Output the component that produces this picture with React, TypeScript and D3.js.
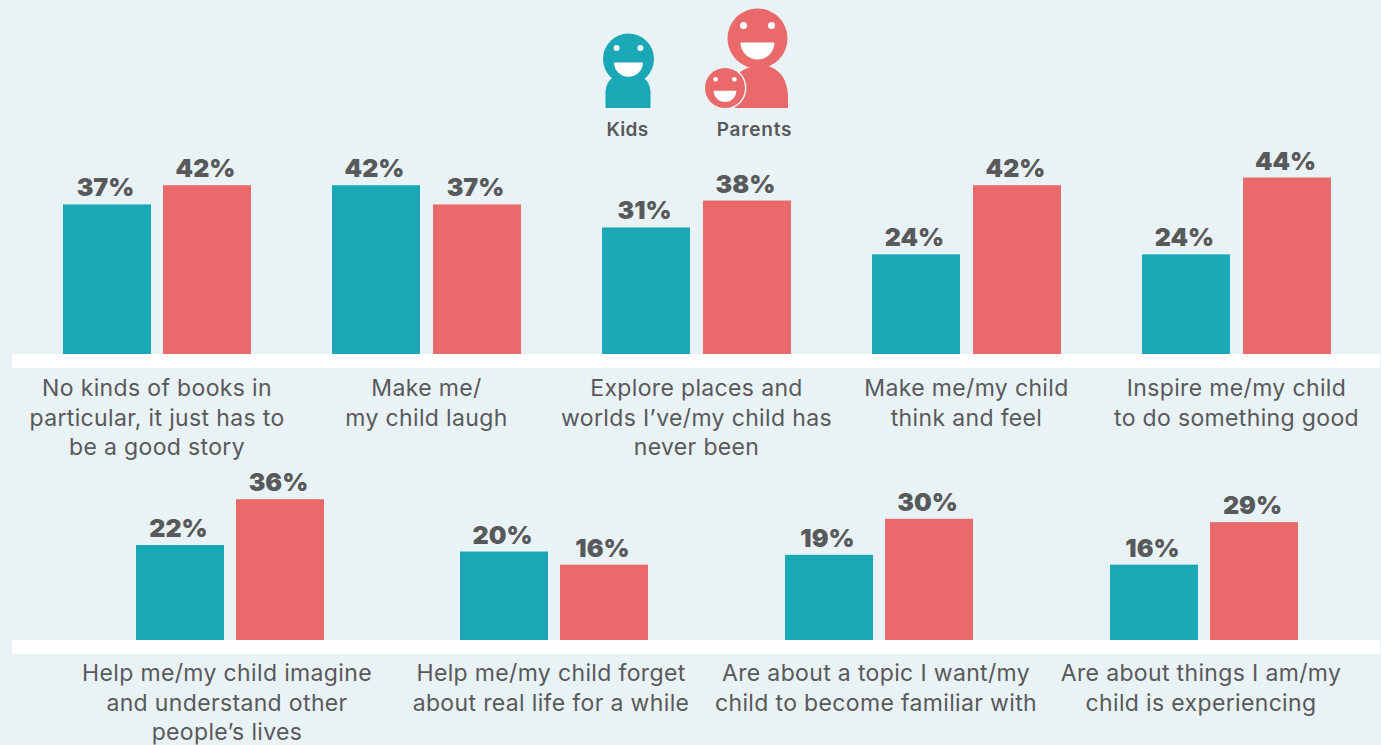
import React from "react";
import * as d3 from "d3";

const topCategories = [
  ["No kinds of books in", "particular, it just has to", "be a good story"],
  ["Make me/", "my child laugh"],
  ["Explore places and", "worlds I\u2019ve/my child has", "never been"],
  ["Make me/my child", "think and feel"],
  ["Inspire me/my child", "to do something good"],
];
const topKids = [37, 42, 31, 24, 24];
const topParents = [42, 37, 38, 42, 44];

const bottomCategories = [
  ["Help me/my child imagine", "and understand other", "people\u2019s lives"],
  ["Help me/my child forget", "about real life for a while"],
  ["Are about a topic I want/my", "child to become familiar with"],
  ["Are about things I am/my", "child is experiencing"],
];
const bottomKids = [22, 20, 19, 16];
const bottomParents = [36, 16, 30, 29];

const TEAL = "#1ba8b6";
const RED = "#ea696b";
const INK = "#58595b";
const BG = "#e9f2f5";
const FONT = "Inter, sans-serif";
const BAR_W = 88;

const yTop = d3.scaleLinear().domain([0, 44]).range([346.6, 177.5]);
const yBottom = d3.scaleLinear().domain([0, 36]).range([617, 499.2]);

function Row({ cats, kids, parents, kidRange, parentRange, labelShift, y, base, textY }: any) {
  const idx = cats.map((_: string[], i: number) => i);
  const xKid = d3.scalePoint<number>().domain(idx).range(kidRange);
  const xParent = d3.scalePoint<number>().domain(idx).range(parentRange);
  return (
    <g>
      <rect x={12} y={base} width={1368} height={14} fill="#fff" />
      {cats.map((c: string[], i: number) => {
        const series = [
          { v: kids[i], x: Math.floor(xKid(i)!), fill: TEAL },
          { v: parents[i], x: Math.floor(xParent(i)!), fill: RED },
        ];
        const centre = (series[0].x + series[1].x + BAR_W) / 2 + labelShift;
        return (
          <g key={i}>
            {series.map((s) => (
              <g key={s.fill}>
                <rect x={s.x} y={y(s.v)} width={BAR_W} height={base - y(s.v)} fill={s.fill} />
                <text x={s.x + BAR_W / 2 - 1.5} y={y(s.v) - 8} textAnchor="middle" fontFamily={FONT} fontWeight={900} fontSize={25} fill={INK}>
                  {s.v}%
                </text>
              </g>
            ))}
            <text textAnchor="middle" fontFamily={FONT} fontSize={23} letterSpacing={0.35} fill={INK}>
              {c.map((l, k) => (
                <tspan key={k} x={centre} y={textY + k * 29.5}>{l}</tspan>
              ))}
            </text>
          </g>
        );
      })}
    </g>
  );
}

function Face({ cx, cy, r, fill }: any) {
  const k = r / 30;
  const mouth = `M${cx - 17 * k},${cy + 4 * k} H${cx + 17 * k} A${17 * k},${17 * k} 0 0 1 ${cx - 17 * k},${cy + 4 * k} Z`;
  return (
    <g>
      <circle cx={cx} cy={cy} r={r} fill={fill} />
      <circle cx={cx - 14 * k} cy={cy - 13 * k} r={3.5 * k} fill="#fff" />
      <circle cx={cx + 14 * k} cy={cy - 13 * k} r={3.5 * k} fill="#fff" />
      <path d={mouth} fill="#fff" />
    </g>
  );
}

export default function App() {
  return (
    <svg width={1381} height={745} style={{ position: "fixed", left: 0, top: 0, background: BG }}>
      <path d="M605.5,108 V92 Q606,81 615,76 H641 Q650,81 650.5,92 V108 Z" fill={TEAL} />
      <Face cx={628.5} cy={59} r={25.5} fill={TEAL} />
      <path d="M735,108 V80 L740,72 Q748,66 760,66 H768 Q787,72 788,96 V108 Z" fill={RED} />
      <Face cx={757.5} cy={38.5} r={30} fill={RED} />
      <circle cx={725} cy={88} r={21.5} fill={BG} />
      <Face cx={725} cy={88} r={20} fill={RED} />
      <text x={627.5} y={136} textAnchor="middle" fontFamily={FONT} fontWeight={600} fontSize={19} letterSpacing={0.3} fill={INK}>Kids</text>
      <text x={754.5} y={136} textAnchor="middle" fontFamily={FONT} fontWeight={600} fontSize={19} letterSpacing={0.8} fill={INK}>Parents</text>
      <Row cats={topCategories} kids={topKids} parents={topParents} kidRange={[63, 1142]} parentRange={[163, 1243]} labelShift={0} y={yTop} base={354} textY={396} />
      <Row cats={bottomCategories} kids={bottomKids} parents={bottomParents} kidRange={[136, 1110.5]} parentRange={[236, 1210]} labelShift={-3} y={yBottom} base={640} textY={681} />
    </svg>
  );
}
